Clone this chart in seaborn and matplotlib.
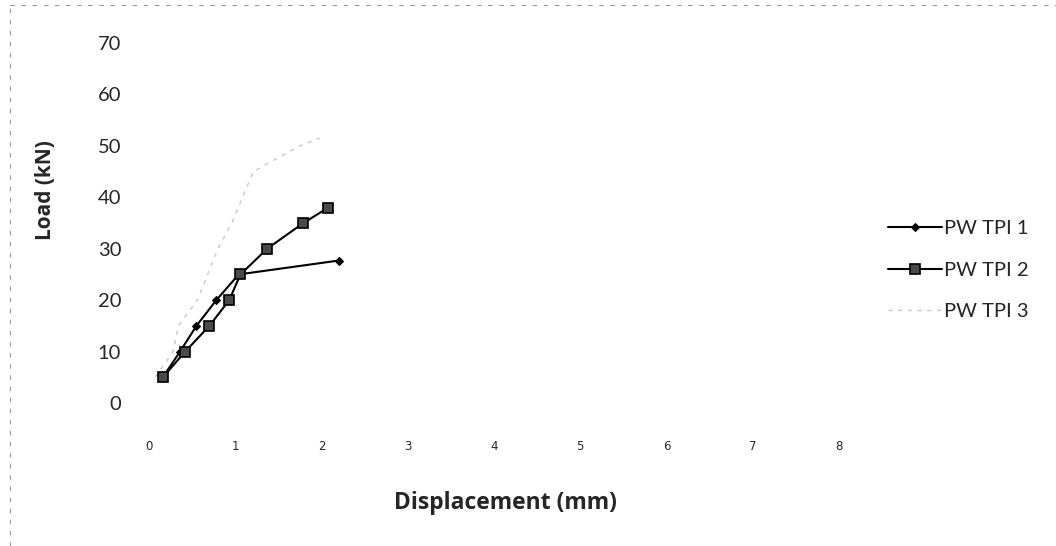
import matplotlib
matplotlib.use("Agg")
import matplotlib.pyplot as plt
from matplotlib.lines import Line2D
import seaborn as sns
import pandas as pd

# Load-displacement readings for the three specimens
tpi1_disp = [0.16, 0.36, 0.55, 0.78, 1.04, 2.20]
tpi1_load = [5, 10, 15, 20, 25, 27.7]

tpi2_disp = [0.16, 0.42, 0.70, 0.93, 1.06, 1.37, 1.79, 2.08]
tpi2_load = [5, 10, 15, 20, 25, 30, 35, 38]

tpi3_disp = [0.07, 0.28, 0.34, 0.56, 0.80, 0.96, 1.21, 1.75, 1.98]
tpi3_load = [5, 10, 15, 20, 30, 35, 45, 50, 51.5]

series_names = ["PW TPI 1", "PW TPI 2", "PW TPI 3"]
x_ticks = [0, 1, 2, 3, 4, 5, 6, 7, 8]
y_ticks = [0, 10, 20, 30, 40, 50, 60, 70]

sns.set_style("white")
plt.rcParams["font.family"] = ["Lato", "DejaVu Sans"]

W, H = 1056, 546
X0, X1 = 149, 839      # pixel columns of x = 0 and x = 8
Y0, Y1 = 403, 43       # pixel rows of y = 0 and y = 70

fig = plt.figure(figsize=(W / 100, H / 100), dpi=100)
ax = fig.add_axes([X0 / W, 1 - Y0 / H, (X1 - X0) / W, (Y0 - Y1) / H])

df1 = pd.DataFrame({"x": tpi1_disp, "y": tpi1_load})
df2 = pd.DataFrame({"x": tpi2_disp, "y": tpi2_load})
df3 = pd.DataFrame({"x": tpi3_disp, "y": tpi3_load})

sns.lineplot(data=df3, x="x", y="y", ax=ax, sort=False, color="#c8c8c8",
             linewidth=1.0, linestyle=(0, (3, 4)), label=series_names[2])
sns.lineplot(data=df1, x="x", y="y", ax=ax, sort=False, color="black",
             linewidth=1.5, marker="D", markersize=4.5, markeredgecolor="black",
             label=series_names[0])
sns.lineplot(data=df2, x="x", y="y", ax=ax, sort=False, color="black",
             linewidth=1.5, marker="s", markersize=7.5, markerfacecolor="#4a4a4a",
             markeredgecolor="black", markeredgewidth=1.2, label=series_names[1])

ax.set_xlim(0, 8)
ax.set_ylim(0, 70)
ax.set_xticks(x_ticks)
ax.set_yticks(y_ticks)
ax.set_xticklabels([str(v) for v in x_ticks], fontsize=8.5, family="DejaVu Sans")
ax.set_yticklabels([str(v) for v in y_ticks], fontsize=14.5)
ax.tick_params(axis="x", length=0, pad=27)
ax.tick_params(axis="y", length=0, pad=20)
for s in ax.spines.values():
    s.set_visible(False)
ax.grid(False)

ax.set_xlabel("Displacement (mm)", fontsize=16.5, fontweight="bold",
              family="Open Sans", labelpad=0)
ax.set_ylabel("Load (kN)", fontsize=15, fontweight="bold", family="Open Sans")
ax.xaxis.set_label_coords((505 - X0) / (X1 - X0), 1 - (491 - Y1) / (Y0 - Y1))
ax.yaxis.set_label_coords((56 - X0) / (X1 - X0), 1 - (190 - Y1) / (Y0 - Y1))

# Legend ordered by specimen
handles, labels = ax.get_legend_handles_labels()
order = [labels.index(n) for n in series_names]
ax.get_legend().remove()
fig.legend([handles[i] for i in order], [labels[i] for i in order],
           loc="center left", bbox_to_anchor=(880 / W, 1 - 270 / H),
           frameon=False, fontsize=14.5, handlelength=2.7, handletextpad=0.1,
           labelspacing=1.2, borderaxespad=0)

# Faint dotted frame along the top and left edges
fig.add_artist(Line2D([10 / W, 1.0], [1 - 5 / H, 1 - 5 / H],
                      transform=fig.transFigure, color="#9a9a9a",
                      linewidth=0.8, linestyle=(0, (4, 6))))
fig.add_artist(Line2D([10 / W, 10 / W], [0.0, 1 - 5 / H],
                      transform=fig.transFigure, color="#9a9a9a",
                      linewidth=0.8, linestyle=(0, (4, 6))))

fig.savefig("out.png", dpi=100)
